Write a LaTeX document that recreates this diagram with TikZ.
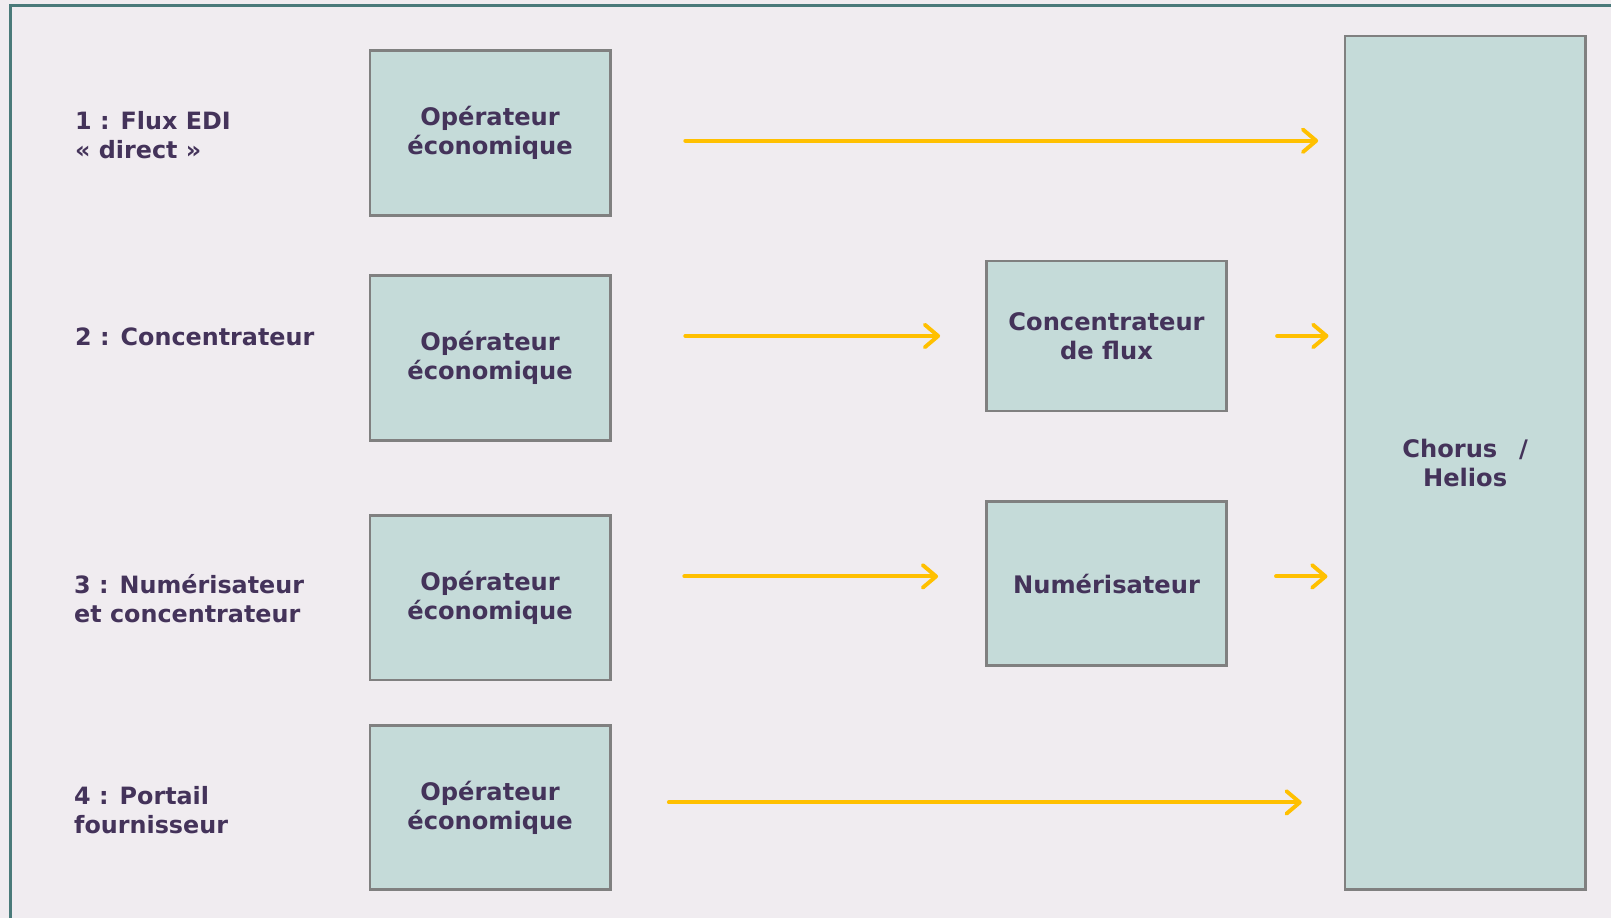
\documentclass[tikz,border=0pt]{standalone}
\usepackage{fontspec}
\setmainfont{DejaVu Sans}
\usetikzlibrary{arrows.meta}
\definecolor{bgc}{HTML}{F0ECF0}
\definecolor{boxc}{HTML}{C5DBD9}
\definecolor{boxline}{HTML}{808080}
\definecolor{txt}{HTML}{44335A}
\definecolor{arrc}{HTML}{FFC000}
\definecolor{framec}{HTML}{4A7A7A}
\tikzset{
  boxst/.style={draw=boxline, line width=2.5pt, fill=boxc, minimum width=234pt, inner sep=0pt, align=center, text=txt, font=\fontsize{23.5}{28}\selectfont\bfseries},
  lbl/.style={anchor=base west, align=left, text=txt, inner sep=0pt, font=\fontsize{23.2}{28}\selectfont\bfseries},
  arr/.style={draw=arrc, line width=3.8pt, line cap=round, -{Straight Barb[length=13pt, width=22pt, line cap=round, line join=round]}}
}
\begin{document}
\begin{tikzpicture}[x=1pt, y=-1pt]
\useasboundingbox (0,0) rectangle (1568,893.5);
\fill[bgc] (0,0) rectangle (1568,893.5);
\draw[framec, line width=3pt] (10,893.5) -- (10,5) -- (1568,5);
% operator boxes
\node[boxst, minimum height=161pt] (op1) at (477,129.5) {Opérateur\\économique};
\node[boxst, minimum height=161pt] (op2) at (477,348.5) {Opérateur\\économique};
\node[boxst, minimum height=160pt] (op3) at (477,582) {Opérateur\\économique};
\node[boxst, minimum height=160pt] (op4) at (477,786) {Opérateur\\économique};
\node[boxst, minimum height=146pt] (conc) at (1077,327) {Concentrateur\\de flux};
\node[boxst, minimum height=160pt] (num) at (1077,568) {Numérisateur};
\node[boxst, minimum height=831pt] (chorus) at (1426,450.5) {Chorus\hspace{0.9em}/\\Helios};
% labels
\node[lbl] (l1) at (73,154) {1 : Flux EDI\\« direct »};
\node[lbl] (l2) at (73,336) {2 : Concentrateur};
\node[lbl] (l3) at (72,606) {3 : Numérisateur\\et concentrateur};
\node[lbl] (l4) at (72,811) {4 : Portail\\fournisseur};
% arrows
\coordinate (a1s) at (667,137); \coordinate (a1e) at (1283,137);
\coordinate (a2s) at (667,327); \coordinate (a2e) at (915,327);
\coordinate (a2t) at (1243,327); \coordinate (a2u) at (1293,327);
\coordinate (a3s) at (666,561); \coordinate (a3e) at (913,561);
\coordinate (a3t) at (1242,561); \coordinate (a3u) at (1292,561);
\coordinate (a4s) at (651,781); \coordinate (a4e) at (1267,781);
\draw[arr] (a1s) -- (a1e);
\draw[arr] (a2s) -- (a2e);
\draw[arr] (a2t) -- (a2u);
\draw[arr] (a3s) -- (a3e);
\draw[arr] (a3t) -- (a3u);
\draw[arr] (a4s) -- (a4e);
\end{tikzpicture}
\end{document}
